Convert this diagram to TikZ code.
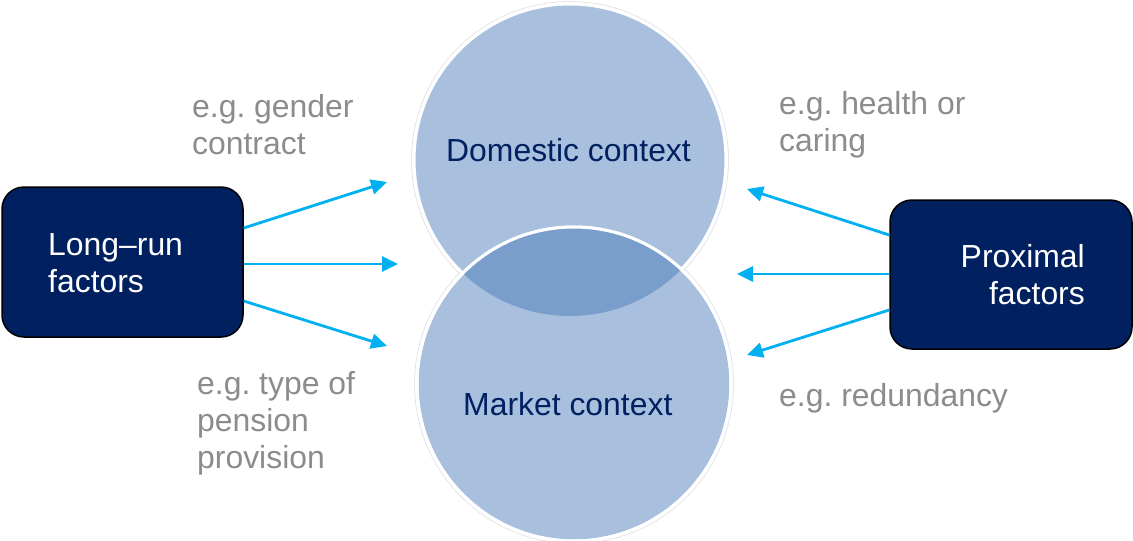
\documentclass[tikz,border=0pt]{standalone}
\usepackage{fontspec}
\setmainfont{Liberation Sans}
\usetikzlibrary{arrows.meta}
\definecolor{navy}{HTML}{002060}
\definecolor{discblue}{HTML}{A8C0DE}
\definecolor{lensblue}{HTML}{7A9ECB}
\definecolor{flowcyan}{HTML}{00B0F0}
\definecolor{notegray}{HTML}{8C8C8C}
\definecolor{haze}{HTML}{E2E4E8}
\frenchspacing

\begin{document}
\begin{tikzpicture}[x=1pt,y=-1pt,
  txt/.style={font=\fontsize{31.9}{37}\selectfont,inner sep=0pt},
  factorbox/.style={draw=black,line width=1.5pt,fill=navy,rounded corners=22pt,
    inner sep=0pt},
  disc/.style={circle,fill=discblue,draw=white,line width=3pt,inner sep=0pt},
  note/.style={txt,text=notegray,align=left,anchor=base west},
  boxtext/.style={txt,text=white},
  disctext/.style={txt,text=navy,anchor=base west},
  flow/.style={draw=flowcyan,line width=2.8pt,-{Triangle[length=16pt,width=15pt]}}]

\useasboundingbox (0,0) rectangle (1133,541);

% faint halos behind the two discs
\draw[haze,line width=0.8pt] (570,160) circle[radius=158.5pt];
\draw[haze,line width=0.8pt] (574,384) circle[radius=159.5pt];

% the two context discs
\node[disc,minimum size=312pt] (dom) at (570,160) {};
\node[disc,minimum size=314pt] (mkt) at (574,384) {};

% overlap of the two discs
\begin{scope}
  \clip (dom.center) circle[radius=156pt];
  \fill[lensblue] (mkt.center) circle[radius=157pt];
\end{scope}
\draw[white,line width=3pt] (mkt.center) circle[radius=157pt];

\node[disctext] (domtxt) at (446,161) {Domestic context};
\node[disctext] (mkttxt) at (463,415) {Market context};

% factor boxes (multi-line text is placed by its last baseline)
\node[factorbox,minimum width=241pt,minimum height=150pt] (L) at (122.5,262) {};
\node[factorbox,minimum width=242pt,minimum height=149pt] (R) at (1011,274.5) {};
\node[boxtext,align=left,anchor=base west] (Ltxt) at (48,292) {Long–run\\factors};
\node[boxtext,align=right,anchor=base east] (Rtxt) at (1085,304) {Proximal\\factors};

% arrow end points
\coordinate (la1) at (387,182);
\coordinate (la2) at (398,264);
\coordinate (la3) at (387,346);
\coordinate (ra1) at (747,189);
\coordinate (ra2) at (737,274);
\coordinate (ra3) at (747,355);

\draw[flow] ([yshift=34pt]L.east) -- (la1);
\draw[flow] ([yshift=-2pt]L.east) -- (la2);
\draw[flow] ([yshift=-39pt]L.east) -- (la3);
\draw[flow] ([yshift=39.5pt]R.west) -- (ra1);
\draw[flow] ([yshift=0.5pt]R.west) -- (ra2);
\draw[flow] ([yshift=-35.5pt]R.west) -- (ra3);

% examples
\node[note] (ex1) at (192,154) {e.g. gender\\contract};
\node[note] (ex2) at (197,468) {e.g. type of\\pension\\provision};
\node[note] (ex3) at (779,151) {e.g. health or\\caring};
\node[note] (ex4) at (779,406) {e.g. redundancy};
\end{tikzpicture}
\end{document}
